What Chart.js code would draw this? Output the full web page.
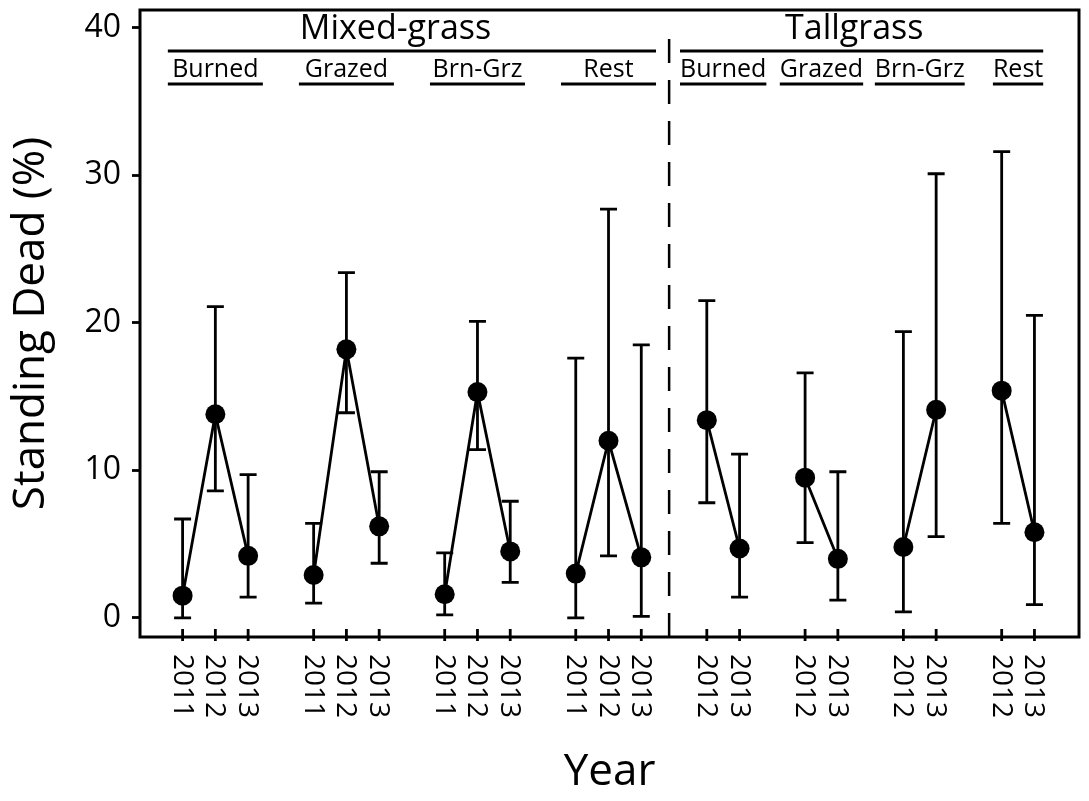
<!DOCTYPE html>
<html>
<head>
<meta charset="utf-8">
<script src="https://cdn.jsdelivr.net/npm/chart.js@4.4.0/dist/chart.umd.min.js"></script>
<style>
  html, body { margin: 0; padding: 0; background: #fff; }
</style>
</head>
<body>
<canvas id="chart" width="1089" height="801"></canvas>
<script>
const regions = ['Mixed-grass', 'Tallgrass'];
const treatments = ['Burned', 'Grazed', 'Brn-Grz', 'Rest'];
const mixedYears = ['2011', '2012', '2013'];
const tallYears = ['2012', '2013'];

// mean and error bar ends, treatment by treatment, one value per year
const mixedMean = [1.5, 13.8, 4.2, 2.9, 18.2, 6.2, 1.6, 15.3, 4.5, 3.0, 12.0, 4.1];
const mixedLow = [0.0, 8.6, 1.4, 1.0, 13.9, 3.7, 0.2, 11.4, 2.4, 0.0, 4.2, 0.1];
const mixedHigh = [6.7, 21.1, 9.7, 6.4, 23.4, 9.9, 4.4, 20.1, 7.9, 17.6, 27.7, 18.5];

const tallMean = [13.4, 4.7, 9.5, 4.0, 4.8, 14.1, 15.4, 5.8];
const tallLow = [7.8, 1.4, 5.1, 1.2, 0.4, 5.5, 6.4, 0.9];
const tallHigh = [21.5, 11.1, 16.6, 9.9, 19.4, 30.1, 31.6, 20.5];

const yTicks = [0, 10, 20, 30, 40];

const FONT = '"Open Sans", "DejaVu Sans", sans-serif';
const ctx = document.getElementById('chart').getContext('2d');

// lay the years out along the x axis, one empty slot between treatments
const points = [];
const groups = [];
const regionSpans = [];
let pos = 1;

function addRegion(region, years, mean, low, high, underline) {
    const start = pos;
    treatments.forEach((name, ti) => {
        const first = pos;
        years.forEach((year, yi) => {
            const i = ti * years.length + yi;
            points.push({ x: pos, y: mean[i], low: low[i], high: high[i], label: year });
            pos++;
        });
        groups.push({ region, name, first, last: pos - 1, underline });
        points.push({ x: pos, y: null }); // breaks the line between treatments
        pos++;
    });
    regionSpans.push({ name: region, first: start, last: pos - 2 });
}

addRegion(regions[0], mixedYears, mixedMean, mixedLow, mixedHigh, 2.9);
addRegion(regions[1], tallYears, tallMean, tallLow, tallHigh, null);

const separator = regionSpans[0].last + 0.85;

const decorations = {
    id: 'decorations',
    beforeDatasetsDraw(chart) {
        const { ctx, scales: { x, y } } = chart;
        ctx.save();
        ctx.strokeStyle = '#000';
        ctx.lineWidth = 2.8;
        points.forEach(p => {
            if (p.y === null) return;
            const px = x.getPixelForValue(p.x);
            const lo = y.getPixelForValue(p.low);
            const hi = y.getPixelForValue(p.high);
            ctx.beginPath();
            ctx.moveTo(px, lo);
            ctx.lineTo(px, hi);
            ctx.moveTo(px - 8.5, lo);
            ctx.lineTo(px + 8.5, lo);
            ctx.moveTo(px - 8.5, hi);
            ctx.lineTo(px + 8.5, hi);
            ctx.stroke();
        });
        ctx.restore();
    },
    afterDraw(chart) {
        const { ctx, chartArea: area, scales: { x } } = chart;
        ctx.save();
        ctx.strokeStyle = '#000';
        ctx.fillStyle = '#000';

        // frame
        ctx.lineWidth = 3;
        ctx.strokeRect(area.left, area.top, area.right - area.left, area.bottom - area.top);

        // x tick marks and rotated year labels
        ctx.lineWidth = 2.8;
        ctx.font = '28px ' + FONT;
        ctx.textAlign = 'left';
        ctx.textBaseline = 'middle';
        points.forEach(p => {
            if (p.y === null) return;
            const px = x.getPixelForValue(p.x);
            ctx.beginPath();
            ctx.moveTo(px, area.bottom - 8);
            ctx.lineTo(px, area.bottom + 4);
            ctx.stroke();
            ctx.save();
            ctx.translate(px, area.bottom + 17);
            ctx.rotate(Math.PI / 2);
            ctx.fillText(p.label, 0, 1);
            ctx.restore();
        });

        // dashed separator between the two grass types
        const sx = x.getPixelForValue(separator);
        ctx.lineWidth = 2.5;
        ctx.setLineDash([24, 17]);
        ctx.beginPath();
        ctx.moveTo(sx, area.top + 29);
        ctx.lineTo(sx, area.bottom);
        ctx.stroke();
        ctx.setLineDash([]);

        // treatment labels with underlines
        ctx.lineWidth = 2.8;
        ctx.textAlign = 'center';
        ctx.textBaseline = 'alphabetic';
        ctx.font = '25px ' + FONT;
        const ends = {};
        groups.forEach(g => {
            const cx = x.getPixelForValue((g.first + g.last) / 2);
            ctx.fillText(g.name, cx, area.top + 67);
            const half = g.underline
                ? (x.getPixelForValue(g.underline) - x.getPixelForValue(0)) / 2
                : ctx.measureText(g.name).width / 2;
            ctx.beginPath();
            ctx.moveTo(cx - half, area.top + 74);
            ctx.lineTo(cx + half, area.top + 74);
            ctx.stroke();
            const e = ends[g.region] || (ends[g.region] = { l: Infinity, r: -Infinity });
            e.l = Math.min(e.l, cx - half);
            e.r = Math.max(e.r, cx + half);
        });

        // grass type titles with overlines
        ctx.font = '34px ' + FONT;
        regionSpans.forEach(r => {
            const cx = x.getPixelForValue((r.first + r.last) / 2 - 0.5);
            ctx.fillText(r.name, cx, area.top + 29);
            ctx.beginPath();
            ctx.moveTo(ends[r.name].l, area.top + 41);
            ctx.lineTo(ends[r.name].r, area.top + 41);
            ctx.stroke();
        });
        ctx.restore();
    }
};

const chartConfig = {
    type: 'line',
    data: {
        datasets: [{
            data: points.map(p => ({ x: p.x, y: p.y })),
            borderColor: '#000',
            borderWidth: 2.8,
            backgroundColor: '#000',
            pointRadius: 10,
            pointBorderWidth: 0,
            pointBackgroundColor: '#000',
            tension: 0,
            spanGaps: false
        }]
    },
    options: {
        responsive: false,
        animation: false,
        devicePixelRatio: 1,
        layout: { padding: { top: 7, right: 3, left: 0, bottom: 0 } },
        plugins: { legend: { display: false }, tooltip: { enabled: false } },
        scales: {
            x: {
                type: 'linear',
                min: -0.3,
                max: 28.36,
                ticks: { display: false },
                grid: { display: false },
                border: { display: false },
                title: {
                    display: true,
                    text: 'Year',
                    color: '#000',
                    font: { family: FONT, size: 44 },
                    padding: { top: 0, bottom: 2 }
                },
                afterFit: scale => {
                    scale.height = 164;
                    scale.paddingLeft = 0;
                    scale.paddingRight = 0;
                }
            },
            y: {
                min: -1.3,
                max: 41.2,
                afterBuildTicks: scale => { scale.ticks = yTicks.map(v => ({ value: v })); },
                ticks: { color: '#000', padding: 11, font: { family: FONT, size: 32 } },
                grid: { drawOnChartArea: false, tickLength: 8, tickWidth: 2.8, tickColor: '#000' },
                border: { display: false },
                title: {
                    display: true,
                    text: 'Standing Dead (%)',
                    color: '#000',
                    font: { family: FONT, size: 44 },
                    padding: { top: 5, bottom: 0 }
                },
                afterFit: scale => {
                    scale.width = 140;
                    scale.paddingTop = 0;
                    scale.paddingBottom = 0;
                }
            }
        }
    },
    plugins: [decorations]
};

const chart = new Chart(ctx, chartConfig);
</script>
</body>
</html>
